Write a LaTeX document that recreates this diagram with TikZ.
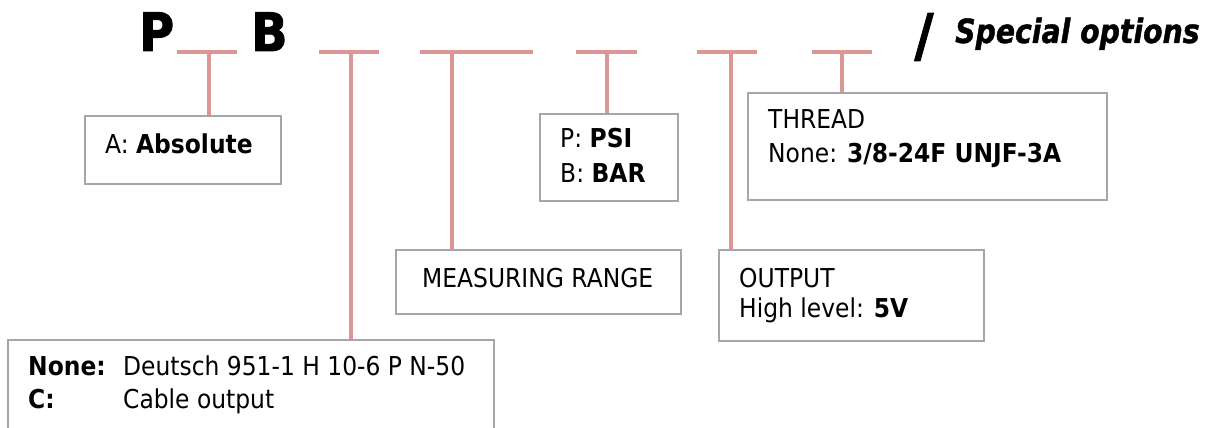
\documentclass[tikz,border=0pt]{standalone}
\usepackage{fontspec}
\setmainfont{DejaVu Sans}[FakeStretch=0.9]
\newfontfamily\bigfont{DejaVu Sans}[UprightFont={* Bold}, ItalicFont={* Bold Oblique}, FakeStretch=0.9, FakeBold=1.6]
\newfontfamily\specfont{DejaVu Sans}[UprightFont={* Bold Oblique}, FakeStretch=0.85, FakeBold=1.2]
\definecolor{barc}{RGB}{221,150,150}
\definecolor{boxc}{RGB}{166,166,166}
\tikzset{
  bar/.style={draw=barc,line width=4pt},
  infobox/.style={draw=boxc,line width=1.5pt,fill=white},
  txt/.style={anchor=base west,inner sep=0pt,font=\fontsize{26}{30}\selectfont},
  bigtxt/.style={anchor=base west,inner sep=0pt,font=\bigfont\fontsize{53}{56}\selectfont},
}
\begin{document}
\begin{tikzpicture}[x=1pt,y=-1pt]
\useasboundingbox (0,0) rectangle (1210,428);
\clip (0,0) rectangle (1210,428);
% boxes
\node[infobox,minimum width=196pt,minimum height=68pt,anchor=north west] (boxA) at (84,115) {};
\node[infobox,minimum width=486pt,minimum height=110pt,anchor=north west] (boxC) at (7,339) {};
\node[infobox,minimum width=285pt,minimum height=64pt,anchor=north west] (boxM) at (395,249) {};
\node[infobox,minimum width=138pt,minimum height=87pt,anchor=north west] (boxP) at (539,113) {};
\node[infobox,minimum width=265pt,minimum height=91pt,anchor=north west] (boxO) at (718,249) {};
\node[infobox,minimum width=359pt,minimum height=107pt,anchor=north west] (boxT) at (747,92) {};
% bars
\coordinate (b1) at (209,52); \draw[bar] (177,52) -- (237,52); \draw[bar] (b1) -- (b1 |- boxA.north);
\coordinate (b2) at (351,52); \draw[bar] (319,52) -- (379,52); \draw[bar] (b2) -- (b2 |- boxC.north);
\coordinate (b3) at (452,52); \draw[bar] (420,52) -- (533,52); \draw[bar] (b3) -- (b3 |- boxM.north);
\coordinate (b4) at (607,52); \draw[bar] (576,52) -- (637,52); \draw[bar] (b4) -- (b4 |- boxP.north);
\coordinate (b5) at (731,52); \draw[bar] (697,52) -- (757,52); \draw[bar] (b5) -- (b5 |- boxO.north);
\coordinate (b6) at (842,52); \draw[bar] (812,52) -- (872,52); \draw[bar] (b6) -- (b6 |- boxT.north);
% header
\node[bigtxt] (P) at (139,51) {P};
\node[bigtxt] (B) at (251,51) {B};
\node[inner sep=0pt,font=\bigfont\fontsize{58}{60}\selectfont] (slash) at (924,37) {/};
\node[anchor=base west,inner sep=0pt,font=\specfont\fontsize{33.3}{38}\selectfont] (spec) at (955,43) {Special options};
% texts
\node[txt] (tA) at (105,153) {A: \textbf{Absolute}};
\node[txt] (tP1) at (560,147) {P: \textbf{PSI}};
\node[txt] (tP2) at (560,182) {B: \textbf{BAR}};
\node[txt] (tM) at (422,287) {MEASURING RANGE};
\node[txt] (tT1) at (768,128) {THREAD};
\node[txt] (tT2) at (768,162) {None: \textbf{3/8-24F UNJF-3A}};
\node[txt] (tO1) at (739,287) {OUTPUT};
\node[txt] (tO2) at (739,317) {High level: \textbf{5V}};
\node[txt] (tC1) at (28,375) {\textbf{None:}};
\node[txt] (tC2) at (123,375) {Deutsch 951-1 H 10-6 P N-50};
\node[txt] (tC3) at (28,408) {\textbf{C:}};
\node[txt] (tC4) at (123,408) {Cable output};
\end{tikzpicture}
\end{document}
